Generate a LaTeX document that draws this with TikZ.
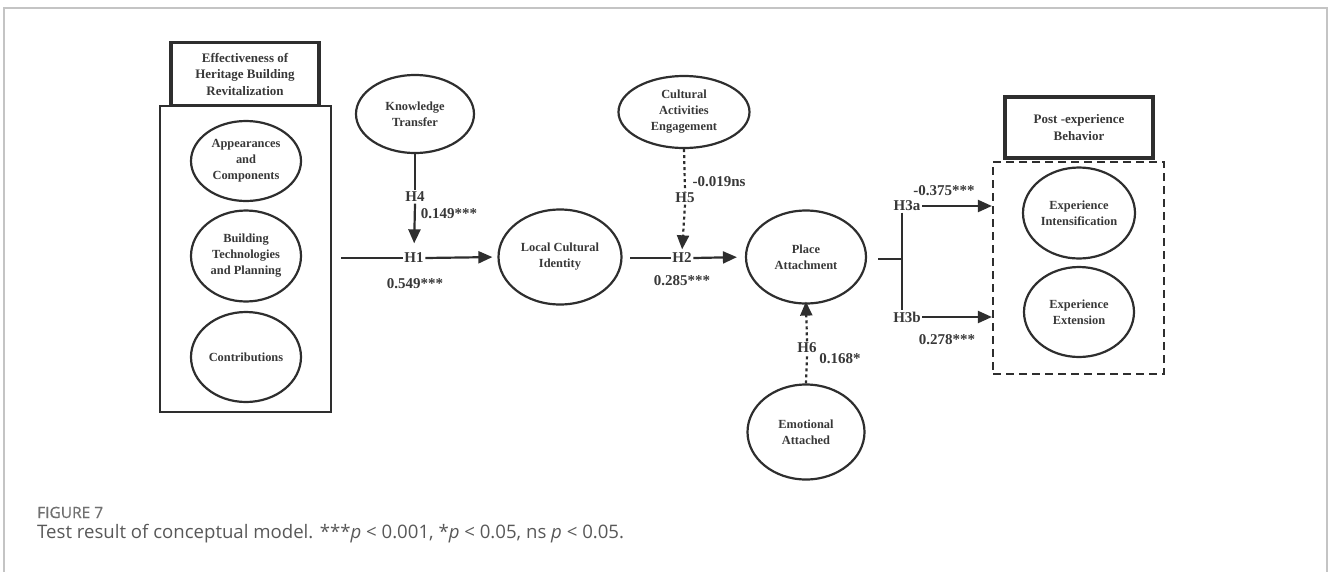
\documentclass[tikz,border=0pt]{standalone}
\usepackage{fontspec}
\setmainfont{Liberation Serif}
\newfontfamily\capfont{Open Sans}
\newfontfamily\capfontb[FakeBold=0.6]{Open Sans}
\usetikzlibrary{shapes.geometric,arrows.meta}
\definecolor{ink}{HTML}{2E2E2E}
\definecolor{txt}{HTML}{383838}
\definecolor{framegray}{HTML}{C4C4C4}
\definecolor{capgray}{HTML}{707070}
\definecolor{captxt}{HTML}{585858}
\begin{document}
\begin{tikzpicture}[x=1pt,y=-1pt,
  ell/.style={ellipse, draw=ink, line width=2.2pt, inner sep=0pt, align=center,
    font=\fontsize{12.4}{16}\selectfont\bfseries, text=txt},
  tbox/.style={rectangle, draw=ink, line width=3.6pt, align=center,
    font=\fontsize{13}{16.5}\selectfont\bfseries, text=txt, inner sep=0pt},
  lab/.style={font=\fontsize{15}{16}\selectfont\bfseries, text=txt, inner sep=1.5pt},
  conn/.style={draw=ink, line width=2.2pt},
  arr/.style={conn, -{Triangle[length=14pt,width=12pt]}},
  dots/.style={dash pattern=on 3pt off 3pt}
]
\useasboundingbox (0,0) rectangle (1328,571);
\draw[framegray, line width=1.2pt] (4,600) -- (4,8) -- (1327,8) -- (1327,600);

% left group
\node[rectangle, draw=ink, line width=2.5pt, minimum width=171pt, minimum height=306pt, inner sep=0pt] (big) at (245.5,259) {};
\node[tbox, minimum width=148pt, minimum height=63pt] (t1) at (245,74) {Effectiveness of\\Heritage Building\\Revitalization};
\node[ell, minimum width=110pt, minimum height=80pt] (e1) at (246,161) {Appearances\\and\\Components};
\node[ell, minimum width=110pt, minimum height=91pt] (e2) at (246,256) {Building\\Technologies\\and Planning};
\node[ell, minimum width=110pt, minimum height=90pt] (e3) at (246,357) {Contributions};

% middle ellipses
\node[ell, minimum width=118pt, minimum height=78pt] (kt) at (415,114) {Knowledge\\Transfer};
\node[ell, minimum width=123pt, minimum height=95pt] (lci) at (560,257) {Local Cultural\\Identity};
\node[ell, minimum width=131pt, minimum height=72pt] (cae) at (684,112) {Cultural\\Activities\\Engagement};
\node[ell, minimum width=120pt, minimum height=93pt] (pa) at (806,257) {Place\\Attachment};
\node[ell, minimum width=117pt, minimum height=95pt] (ea) at (806,432) {Emotional\\Attached};

% right group
\node[tbox, minimum width=148pt, minimum height=61pt] (t2) at (1079,127.5) {Post -experience\\Behavior};
\node[rectangle, draw=ink, line width=2.2pt, dash pattern=on 8pt off 5pt, minimum width=171pt, minimum height=212pt, inner sep=0pt] (dbox) at (1078.5,268) {};
\node[ell, minimum width=112pt, minimum height=91pt] (ei) at (1079,213) {Experience\\Intensification};
\node[ell, minimum width=110pt, minimum height=90pt] (ee) at (1079,312) {Experience\\Extension};

% labels
\node[lab] (h1) at (414,258) {H1};
\node[lab] (h4) at (415,197) {H4};
\node[lab] (v149) at (449,214) {0.149***};
\node[lab] (v549) at (415,284) {0.549***};
\node[lab] (h2) at (682,258) {H2};
\node[lab] (h5) at (685,198) {H5};
\node[lab] (v019) at (719,182) {-0.019ns};
\node[lab] (v285) at (682,281) {0.285***};
\node[lab] (h3a) at (907,206) {H3a};
\node[lab] (h3b) at (907,317) {H3b};
\node[lab] (v375) at (944,191) {-0.375***};
\node[lab] (v278) at (947,340) {0.278***};
\node[lab] (h6) at (807,348) {H6};
\node[lab] (v168) at (840,359) {0.168*};

\coordinate (s1) at (341,258);
\coordinate (s2) at (630,258);
\coordinate (s3) at (878,259);
\coordinate (j) at (902,259);

% connectors
\draw[conn] (s1) -- (h1.west);
\draw[arr, shorten >=5pt] (h1.east) -- (lci.west);
\draw[conn] (kt.south) -- (h4.north);
\draw[arr, shorten >=8pt] (h4.south) -- (h1.north);
\draw[conn] (s2) -- (h2.west);
\draw[arr, shorten >=8pt] (h2.east) -- (pa.west);
\draw[conn, dots] (cae.south) -- (h5.north);
\draw[arr, dots, shorten >=2pt] (h5.south) -- (h2.north);
\draw[conn] (s3) -- (j);
\draw[conn] (h3a.south -| j) -- (h3b.north -| j);
\draw[arr] (h3a.east) -- (h3a.east -| dbox.west);
\draw[arr] (h3b.east) -- (h3b.east -| dbox.west);
\draw[conn, dots] (ea.north) -- (h6.south);
\draw[arr, dots, shorten >=-3pt] (h6.north) -- (pa.south);

% caption
\node[anchor=base west, inner sep=0pt, font=\capfontb\fontsize{15.5}{17}\selectfont, text=capgray] (fig) at (37,518) {FIGURE 7};
\node[anchor=base west, inner sep=0pt, font=\capfont\fontsize{18.6}{20}\selectfont, text=captxt] (cap) at (37,538) {Test result of conceptual model. ***\textit{p} < 0.001, *\textit{p} < 0.05, ns \textit{p} < 0.05.};
\end{tikzpicture}
\end{document}
